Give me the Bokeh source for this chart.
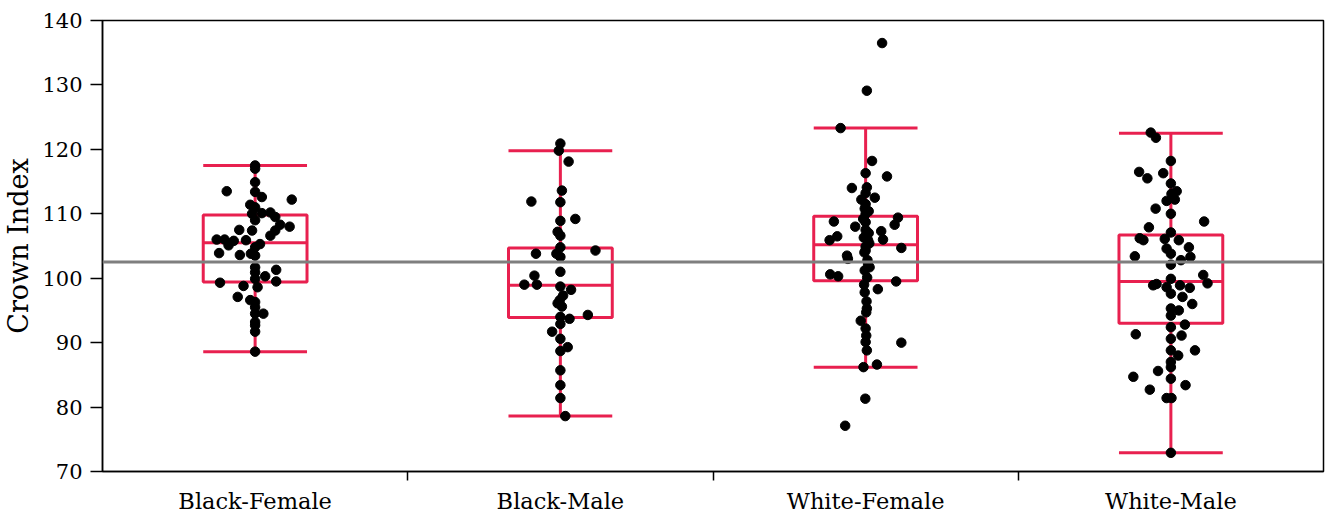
from bokeh.plotting import figure
from bokeh.models import Range1d, FixedTicker, Span
from bokeh.embed import file_html
from bokeh.resources import INLINE

categories = ["Black-Female", "Black-Male", "White-Female", "White-Male"]

# box statistics
upper_whisker = [117.5, 119.8, 123.3, 122.5]
q3 = [109.8, 104.7, 109.6, 106.7]
median = [105.5, 98.9, 105.2, 99.5]
q1 = [99.4, 93.9, 99.6, 93.0]
lower_whisker = [88.6, 78.6, 86.2, 72.9]
reference_mean = 102.5

# individual observations (value, horizontal jitter in category units)
bf_values = [117.5, 117.0, 114.9, 113.5, 113.4, 112.6, 112.2, 111.4, 111.0, 110.0,
             110.1, 110.2, 109.5, 109.0, 108.3, 108.0, 107.5, 107.4, 107.4, 106.6,
             106.0, 106.0, 105.8, 105.1, 105.9, 105.3, 104.8, 103.9, 103.6, 103.8,
             103.5, 101.7, 101.3, 100.9, 100.3, 99.9, 99.3, 99.5, 98.8, 98.6,
             97.1, 96.6, 96.3, 95.5, 94.5, 94.5, 93.2, 92.7, 91.7, 88.6]
bf_jitter = [0, 0, 0, -0.093, 0, 0.022, 0.12, -0.016, 0, -0.01,
             0.022, 0.05, 0.066, 0, 0.082, 0.113, -0.052, -0.01, 0.066, 0.05,
             -0.126, -0.1, -0.07, -0.087, -0.03, 0.016, 0, -0.118, -0.05, -0.014,
             0, 0, 0.069, 0, 0.033, 0, -0.115, 0.069, -0.038, 0.008,
             -0.057, -0.016, 0, 0, 0.027, 0, 0, 0, 0, 0]

bm_values = [120.9, 119.8, 118.1, 113.6, 111.9, 111.8, 109.2, 108.9, 107.2, 106.6,
             104.8, 104.3, 103.8, 103.8, 103.3, 101.0, 100.4, 99.0, 99.0, 98.7,
             98.2, 97.3, 96.6, 96.1, 95.6, 94.3, 93.7, 94.0, 92.9, 91.7,
             90.6, 89.3, 88.7, 85.7, 83.4, 81.4, 78.6]
bm_jitter = [0, -0.005, 0.027, 0.005, -0.095, 0, 0.049, 0, -0.009, 0,
             0, 0.115, -0.08, -0.013, 0, 0, -0.085, -0.118, -0.077, 0,
             0.035, 0.009, -0.002, -0.009, 0.005, 0.09, 0.03, 0, 0, -0.027,
             0, 0.024, 0, 0, 0, 0, 0.016]

wf_values = [136.5, 129.1, 123.3, 118.2, 116.3, 115.8, 114.0, 114.1, 113.2, 112.5,
             112.2, 111.5, 110.8, 110.0, 109.4, 108.8, 108.3, 108.7, 108.0, 107.3,
             107.5, 106.5, 105.9, 106.0, 105.9, 104.9, 104.7, 104.3, 103.5, 103.0,
             102.2, 101.7, 101.2, 100.6, 100.3, 100.1, 99.5, 98.3, 97.8, 95.3,
             94.7, 93.4, 92.2, 91.1, 90.1, 90.0, 88.8, 86.6, 86.2, 81.3,
             77.1, 110.4, 109.2, 107.0, 106.3, 105.4, 104.0, 102.8, 99.0, 96.4]
wf_jitter = [0.054, 0.004, -0.082, 0.021, 0, 0.07, -0.045, 0.004, 0, 0.03,
             -0.014, 0, -0.003, 0, 0.106, -0.104, 0.095, 0, -0.034, 0.051,
             0, -0.093, -0.118, 0.057, 0.008, 0, 0.117, 0, -0.061, -0.058,
             0.008, 0.013, -0.003, -0.116, -0.09, 0.005, 0.1, 0.04, -0.003, 0.004,
             0.002, -0.016, 0, 0.002, 0, 0.117, 0.004, 0.037, -0.007, -0.001,
             -0.067, 0.01, -0.008, 0.01, -0.006, 0.012, -0.004, 0.006, -0.005, 0.003]

wm_values = [122.6, 121.8, 118.2, 116.5, 116.3, 115.5, 114.7, 113.5, 113.1, 112.0,
             112.2, 110.8, 110.0, 108.8, 107.9, 107.1, 106.2, 105.9, 106.1, 105.9,
             104.6, 104.8, 103.8, 103.4, 103.3, 102.8, 102.1, 100.5, 99.9, 99.2,
             99.1, 98.9, 98.6, 98.9, 98.5, 97.6, 97.1, 96.0, 95.3, 95.0,
             94.2, 92.8, 92.4, 91.3, 91.1, 90.6, 88.8, 88.8, 88.0, 87.0,
             86.2, 85.6, 84.7, 84.4, 83.4, 82.7, 81.4, 81.4, 72.9]
wm_jitter = [-0.066, -0.049, 0, -0.104, -0.025, -0.077, 0, 0.019, 0.002, -0.014,
             0.013, -0.05, 0, 0.109, -0.072, 0, -0.102, -0.09, -0.02, 0.026,
             -0.014, 0.059, 0, -0.118, 0.064, 0.033, 0, 0.106, 0, 0.12,
             -0.047, -0.058, -0.014, 0.03, 0.062, 0, 0.038, 0.07, 0, 0.026,
             0, 0.046, 0, -0.115, 0.035, 0, 0, 0.079, 0.024, 0,
             0, -0.042, -0.123, 0, 0.048, -0.069, -0.014, 0.002, 0]

group_values = [bf_values, bm_values, wf_values, wm_values]
group_jitter = [bf_jitter, bm_jitter, wf_jitter, wm_jitter]

BOX_RED = "#E8204F"
FONT = "DejaVu Serif"
half = 0.17
LW = 3

p = figure(width=1325, height=516, output_backend="svg", toolbar_location=None,
           x_range=Range1d(0, 4), y_range=Range1d(70, 140),
           min_border_top=20, min_border_left=102, min_border_right=2, min_border_bottom=45)
p.grid.visible = False
p.outline_line_color = "black"
p.outline_line_width = 1.5
p.background_fill_color = "white"

centers = [i + 0.5 for i in range(len(categories))]

# boxes
p.quad(left=[c - half for c in centers], right=[c + half for c in centers],
       top=q3, bottom=q1, fill_alpha=0, line_color=BOX_RED, line_width=LW)
# median
p.segment(x0=[c - half for c in centers], x1=[c + half for c in centers],
          y0=median, y1=median, line_color=BOX_RED, line_width=LW)
# whiskers
p.segment(x0=centers, x1=centers, y0=q3, y1=upper_whisker, line_color=BOX_RED, line_width=LW)
p.segment(x0=centers, x1=centers, y0=q1, y1=lower_whisker, line_color=BOX_RED, line_width=LW)
p.segment(x0=[c - half for c in centers], x1=[c + half for c in centers],
          y0=upper_whisker, y1=upper_whisker, line_color=BOX_RED, line_width=LW)
p.segment(x0=[c - half for c in centers], x1=[c + half for c in centers],
          y0=lower_whisker, y1=lower_whisker, line_color=BOX_RED, line_width=LW)

# reference line (grand mean)
p.add_layout(Span(location=reference_mean, dimension="width", line_color="#7F7F7F", line_width=3))

# points
for c, vals, jit in zip(centers, group_values, group_jitter):
    p.scatter(x=[c + j for j in jit], y=vals, size=9.5, color="black")

# x axis: labels at centres, small ticks between categories
p.xaxis.ticker = FixedTicker(ticks=centers, minor_ticks=[1, 2, 3])
p.xaxis.major_label_overrides = {c: name for c, name in zip(centers, categories)}
p.xaxis.major_tick_out = 0
p.xaxis.major_tick_in = 0
p.xaxis.minor_tick_out = 9
p.xaxis.minor_tick_in = 0
p.xaxis.major_label_standoff = 7
p.xaxis.major_label_text_font = FONT
p.xaxis.major_label_text_font_size = "22.5px"
p.xaxis.major_label_text_color = "black"
p.xaxis.axis_line_width = 1.5
p.xaxis.axis_line_color = "black"
p.xaxis.minor_tick_line_width = 1.5
p.xaxis.minor_tick_line_color = "black"

# y axis
p.yaxis.ticker = FixedTicker(ticks=[70, 80, 90, 100, 110, 120, 130, 140])
p.yaxis.minor_tick_line_color = None
p.yaxis.major_tick_out = 12
p.yaxis.major_tick_in = 0
p.yaxis.major_tick_line_width = 1.5
p.yaxis.major_tick_line_color = "black"
p.yaxis.axis_line_width = 1.5
p.yaxis.axis_line_color = "black"
p.yaxis.major_label_standoff = 8
p.yaxis.major_label_text_font = FONT
p.yaxis.major_label_text_font_size = "21px"
p.yaxis.major_label_text_color = "black"
p.yaxis.axis_label = "Crown Index"
p.yaxis.axis_label_text_font = FONT
p.yaxis.axis_label_text_font_size = "27px"
p.yaxis.axis_label_text_font_style = "normal"
p.yaxis.axis_label_text_color = "black"
p.yaxis.axis_label_standoff = 5

open("out.html", "w").write(file_html(p, INLINE))
